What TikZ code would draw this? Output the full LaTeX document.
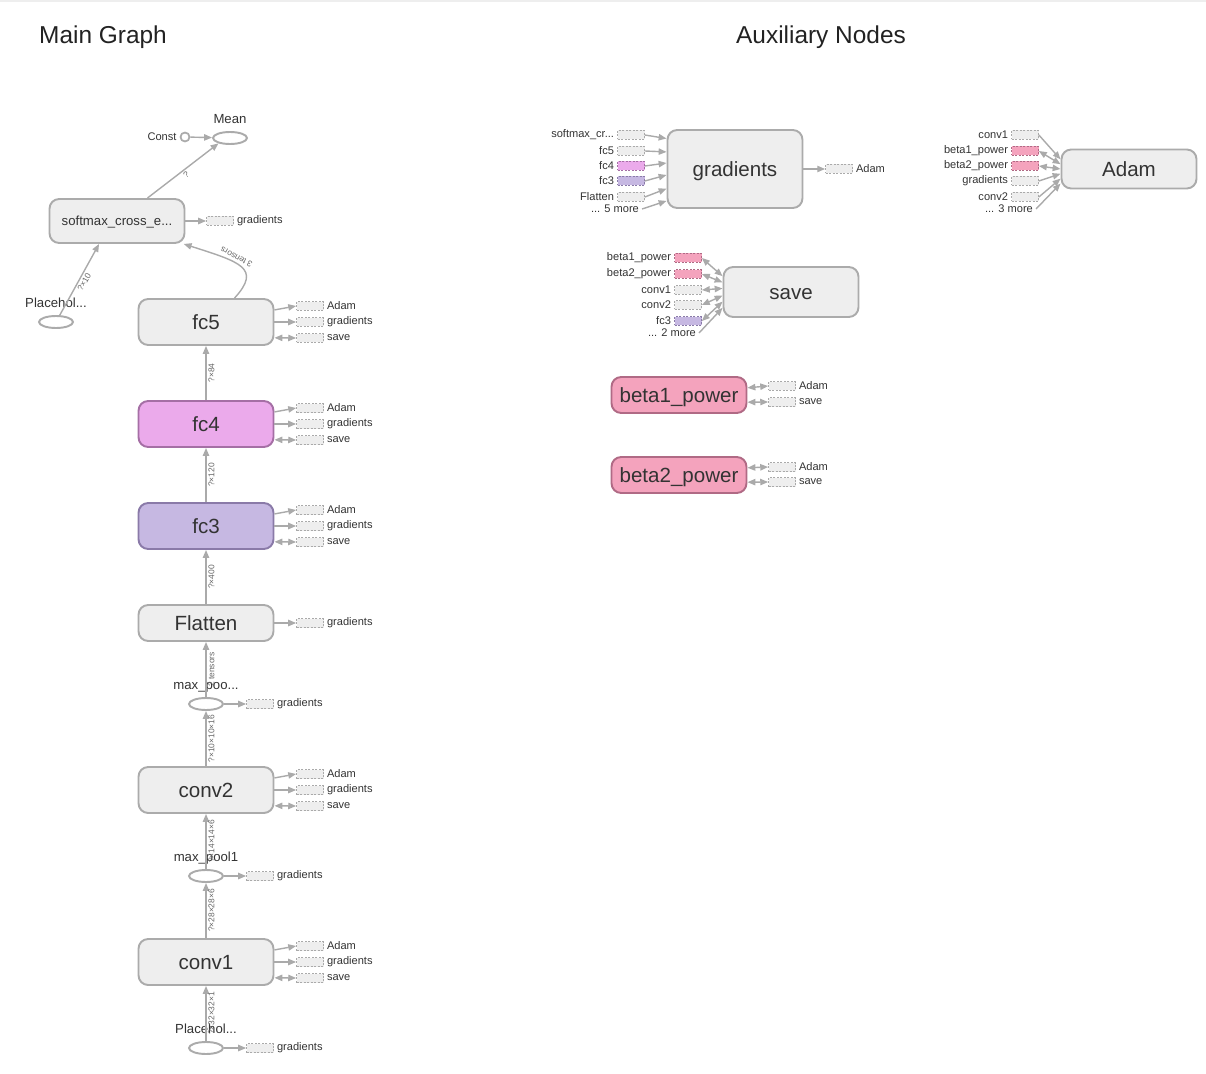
\documentclass[tikz,border=0pt]{standalone}
\usepackage{fontspec}
\setmainfont{Liberation Sans}
\usepackage{tikz}
\usetikzlibrary{arrows.meta,shapes.geometric,calc}

\definecolor{boxfill}{HTML}{EEEEEE}
\definecolor{boxline}{HTML}{ABABAB}
\definecolor{edgec}{HTML}{AAAAAA}
\definecolor{txt}{HTML}{333333}
\definecolor{headc}{HTML}{222222}
\definecolor{elblc}{HTML}{666666}
\definecolor{topline}{HTML}{EEEEEE}
\definecolor{pinkfill}{HTML}{F4A3BD}
\definecolor{pinkline}{HTML}{B06A85}
\definecolor{violetfill}{HTML}{EBAAEB}
\definecolor{violetline}{HTML}{A56FA5}
\definecolor{lavfill}{HTML}{C6B8E2}
\definecolor{lavline}{HTML}{8A7AA8}

\begin{document}
\begin{tikzpicture}[x=0.02cm, y=-0.02cm,
    op/.style={draw=boxline, fill=boxfill, line width=1.1pt, rounded corners=5.5pt, minimum width=2.7cm, minimum height=0.92cm, inner sep=0pt, text=txt, text height=8.4pt, text depth=0pt, font=\fontsize{11.7}{14}\selectfont},
    ell/.style={ellipse, draw=boxline, fill=white, line width=1.1pt, minimum width=0.68cm, minimum height=0.24cm, inner sep=0pt},
    dot/.style={circle, draw=boxline, fill=white, line width=1pt, minimum size=0.18cm, inner sep=0pt},
    aux/.style={draw=edgec, fill=boxfill, line width=0.4pt, dash pattern=on 1.2pt off 0.8pt, minimum width=0.54cm, minimum height=0.18cm, inner sep=0pt},
    pinkaux/.style={aux, fill=pinkfill, draw=pinkline},
    violetaux/.style={aux, fill=violetfill, draw=violetline},
    lavaux/.style={aux, fill=lavfill, draw=lavline},
    head/.style={text=headc, anchor=base, font=\fontsize{13.9}{16}\selectfont},
    mlbl/.style={text=txt, inner sep=1pt, yshift=3pt, text height=5.4pt, text depth=0pt, font=\fontsize{7.5}{9}\selectfont},
    slbl/.style={text=txt, inner sep=1.6pt, font=\fontsize{6.3}{7}\selectfont},
    elbl/.style={midway, sloped, below, inner sep=1pt, text=elblc, font=\fontsize{4.8}{5}\selectfont},
    flow/.style={draw=edgec, line width=0.8pt, -{Triangle[length=4.5pt,width=3.6pt]}},
    bidir/.style={flow, {Triangle[length=4.5pt,width=3.6pt]}-{Triangle[length=4.5pt,width=3.6pt]}}]

    \useasboundingbox (0,0) rectangle (1206,1074);
    \draw[topline, line width=1.2pt] (0,1) -- (1206,1);

    \node[head] (tmain) at (103,44) {Main Graph};
    \node[head] (taux) at (821,44) {Auxiliary Nodes};

    \node[op] (fc5) at (206,322) {fc5};
    \node[op, fill=violetfill, draw=violetline] (fc4) at (206,424) {fc4};
    \node[op, fill=lavfill, draw=lavline] (fc3) at (206,526) {fc3};
    \node[op, minimum height=0.72cm] (flat) at (206,623) {Flatten};
    \node[op] (conv2) at (206,790) {conv2};
    \node[op] (conv1) at (206,962) {conv1};
    \node[op, minimum height=0.88cm, text height=5.4pt, font=\fontsize{7.5}{9}\selectfont] (smx) at (117,221) {softmax\_cross\_e...};

    \node[ell, label={[mlbl]above:Mean}] (mean) at (230,138) {};
    \node[dot, label={[slbl]left:Const}] (const) at (185,137) {};
    \node[ell, label={[mlbl]above:Placehol...}] (ph1) at (56,322) {};
    \node[ell, label={[mlbl]above:max\_poo...}] (pool2) at (206,704) {};
    \node[ell, label={[mlbl]above:max\_pool1}] (pool1) at (206,876) {};
    \node[ell, label={[mlbl]above:Placehol...}] (ph2) at (206,1048) {};

    \node[aux, label={[slbl]right:gradients}] (smxg) at (220,221) {};
    \node[aux, label={[slbl]right:Adam}] (fc5a) at (310,306) {};
    \node[aux, label={[slbl]right:gradients}] (fc5g) at (310,322) {};
    \node[aux, label={[slbl]right:save}] (fc5s) at (310,338) {};
    \node[aux, label={[slbl]right:Adam}] (fc4a) at (310,408) {};
    \node[aux, label={[slbl]right:gradients}] (fc4g) at (310,424) {};
    \node[aux, label={[slbl]right:save}] (fc4s) at (310,440) {};
    \node[aux, label={[slbl]right:Adam}] (fc3a) at (310,510) {};
    \node[aux, label={[slbl]right:gradients}] (fc3g) at (310,526) {};
    \node[aux, label={[slbl]right:save}] (fc3s) at (310,542) {};
    \node[aux, label={[slbl]right:gradients}] (flatg) at (310,623) {};
    \node[aux, label={[slbl]right:gradients}] (pool2g) at (260,704) {};
    \node[aux, label={[slbl]right:Adam}] (conv2a) at (310,774) {};
    \node[aux, label={[slbl]right:gradients}] (conv2g) at (310,790) {};
    \node[aux, label={[slbl]right:save}] (conv2s) at (310,806) {};
    \node[aux, label={[slbl]right:gradients}] (pool1g) at (260,876) {};
    \node[aux, label={[slbl]right:Adam}] (conv1a) at (310,946) {};
    \node[aux, label={[slbl]right:gradients}] (conv1g) at (310,962) {};
    \node[aux, label={[slbl]right:save}] (conv1s) at (310,978) {};
    \node[aux, label={[slbl]right:gradients}] (ph2g) at (260,1048) {};

    \draw[flow] (const) -- (mean);
    \draw[flow] (smx.37) -- node[elbl] {?} (mean.205);
    \draw[flow] (ph1) -- node[elbl] {?×10} (smx.232);
    \draw[flow] (fc5.40) .. controls (262,268) and (240,262) .. node[elbl, pos=0.6, allow upside down] {3 tensors} (smx.-19);
    \draw[flow] (ph2) -- node[elbl] {?×32×32×1} (conv1);
    \draw[flow] (conv1) -- node[elbl] {?×28×28×6} (pool1);
    \draw[flow] (pool1) -- node[elbl] {?×14×14×6} (conv2);
    \draw[flow] (conv2) -- node[elbl] {?×10×10×16} (pool2);
    \draw[flow] (pool2) -- node[elbl] {2 tensors} (flat);
    \draw[flow] (flat) -- node[elbl] {?×400} (fc3);
    \draw[flow] (fc3) -- node[elbl] {?×120} (fc4);
    \draw[flow] (fc4) -- node[elbl] {?×84} (fc5);

    \draw[flow] (smx.east) -- (smxg.west);
    \draw[flow] (fc5.10) -- (fc5a.west);
    \draw[flow] (fc5.east) -- (fc5g.west);
    \draw[bidir] (fc5.-13) -- (fc5s.west);
    \draw[flow] (fc4.10) -- (fc4a.west);
    \draw[flow] (fc4.east) -- (fc4g.west);
    \draw[bidir] (fc4.-13) -- (fc4s.west);
    \draw[flow] (fc3.10) -- (fc3a.west);
    \draw[flow] (fc3.east) -- (fc3g.west);
    \draw[bidir] (fc3.-13) -- (fc3s.west);
    \draw[flow] (flat.east) -- (flatg.west);
    \draw[flow] (pool2.east) -- (pool2g.west);
    \draw[flow] (conv2.10) -- (conv2a.west);
    \draw[flow] (conv2.east) -- (conv2g.west);
    \draw[bidir] (conv2.-13) -- (conv2s.west);
    \draw[flow] (pool1.east) -- (pool1g.west);
    \draw[flow] (conv1.10) -- (conv1a.west);
    \draw[flow] (conv1.east) -- (conv1g.west);
    \draw[bidir] (conv1.-13) -- (conv1s.west);
    \draw[flow] (ph2.east) -- (ph2g.west);

    \node[op, minimum height=1.56cm] (grad) at (735,169) {gradients};
    \node[aux, label={[slbl]left:softmax\_cr...}] (gsmx) at (631,135) {};
    \node[aux, label={[slbl]left:fc5}] (gfc5) at (631,151) {};
    \node[violetaux, label={[slbl]left:fc4}] (gfc4) at (631,166) {};
    \node[lavaux, label={[slbl]left:fc3}] (gfc3) at (631,181) {};
    \node[aux, label={[slbl]left:Flatten}] (gflat) at (631,197) {};
    \node[slbl, anchor=east] (gmore) at (642,209) {... 5 more};
    \node[aux, label={[slbl]right:Adam}] (gadam) at (839,169) {};

    \draw[flow] (gsmx.east) -- (grad.156);
    \draw[flow] (gfc5.east) -- (grad.166);
    \draw[flow] (gfc4.east) -- (grad.175);
    \draw[flow] (gfc3.east) -- (grad.185);
    \draw[flow] (gflat.east) -- (grad.196);
    \draw[flow] (gmore.east) -- (grad.205);
    \draw[flow] (grad.east) -- (gadam.west);

    \node[op, minimum height=0.78cm] (adam) at (1129,169) {Adam};
    \node[aux, label={[slbl]left:conv1}] (aconv1) at (1025,135) {};
    \node[pinkaux, label={[slbl]left:beta1\_power}] (abeta1) at (1025,151) {};
    \node[pinkaux, label={[slbl]left:beta2\_power}] (abeta2) at (1025,166) {};
    \node[aux, label={[slbl]left:gradients}] (agrad) at (1025,181) {};
    \node[aux, label={[slbl]left:conv2}] (aconv2) at (1025,197) {};
    \node[slbl, anchor=east] (amore) at (1036,209) {... 3 more};

    \draw[flow] (aconv1.east) -- (adam.172);
    \draw[bidir] (abeta1.east) -- (adam.176);
    \draw[bidir] (abeta2.east) -- (adam.180);
    \draw[flow] (agrad.east) -- (adam.184);
    \draw[flow] (aconv2.east) -- (adam.188);
    \draw[flow] (amore.east) -- (adam.192);

    \node[op, minimum height=1.0cm] (save) at (791,292) {save};
    \node[pinkaux, label={[slbl]left:beta1\_power}] (sbeta1) at (688,258) {};
    \node[pinkaux, label={[slbl]left:beta2\_power}] (sbeta2) at (688,274) {};
    \node[aux, label={[slbl]left:conv1}] (sconv1) at (688,290) {};
    \node[aux, label={[slbl]left:conv2}] (sconv2) at (688,305) {};
    \node[lavaux, label={[slbl]left:fc3}] (sfc3) at (688,321) {};
    \node[slbl, anchor=east] (smore) at (699,333) {... 2 more};

    \draw[bidir] (sbeta1.east) -- (save.167);
    \draw[bidir] (sbeta2.east) -- (save.172);
    \draw[bidir] (sconv1.east) -- (save.177);
    \draw[bidir] (sconv2.east) -- (save.183);
    \draw[bidir] (sfc3.east) -- (save.188);
    \draw[flow] (smore.east) -- (save.193);

    \node[op, minimum height=0.72cm, fill=pinkfill, draw=pinkline] (beta1) at (679,395) {beta1\_power};
    \node[aux, label={[slbl]right:Adam}] (b1adam) at (782,386) {};
    \node[aux, label={[slbl]right:save}] (b1save) at (782,402) {};
    \draw[bidir] (beta1.6) -- (b1adam.west);
    \draw[bidir] (beta1.-6) -- (b1save.west);

    \node[op, minimum height=0.72cm, fill=pinkfill, draw=pinkline] (beta2) at (679,475) {beta2\_power};
    \node[aux, label={[slbl]right:Adam}] (b2adam) at (782,467) {};
    \node[aux, label={[slbl]right:save}] (b2save) at (782,482) {};
    \draw[bidir] (beta2.6) -- (b2adam.west);
    \draw[bidir] (beta2.-6) -- (b2save.west);
\end{tikzpicture}
\end{document}
